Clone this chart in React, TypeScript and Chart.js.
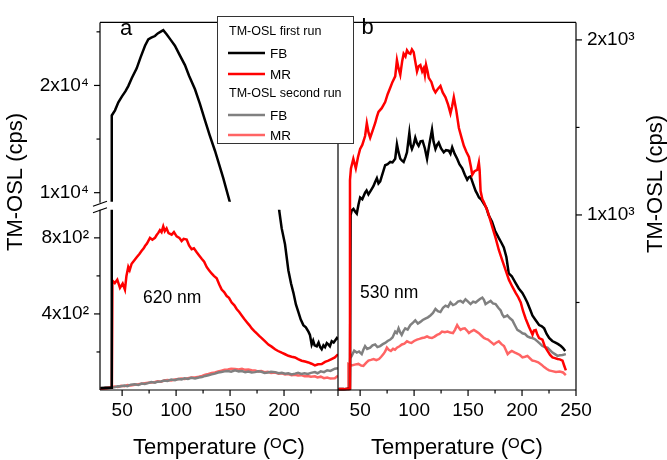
import { useEffect, useRef } from 'react';
import { Chart, registerables } from 'chart.js';

Chart.register(...registerables);

// values: [temperature (°C), TM-OSL (cps)]
// panel a, 620 nm stimulation
const aFirstFb: [number, number][] = [
  [30, 10], [35, 12], [39.8, 12], [40.4, 17200], [43.4, 17680], [46.5, 18430], [50, 19000], [53, 19450],
  [55.7, 19940], [59, 20700], [63.5, 21600], [67, 22600], [71.2, 23700], [74.2, 24300], [77, 24450],
  [80.4, 24610], [83, 24850], [86.6, 25070], [88.1, 25160], [91.2, 24770], [95, 24250], [98.9, 23710],
  [103, 22900], [108.2, 21900], [112, 20900], [117.5, 19640], [122, 18300], [126.7, 16770], [131, 15400],
  [136, 13910], [140, 12600], [143.7, 11350], [149.9, 9080], [160, 5800], [170, 3600], [180, 2200],
  [190, 1300], [195.5, 945], [197.8, 851], [200.9, 766], [204, 630], [206.5, 560], [208.7, 511],
  [211, 450], [213.3, 409], [215.5, 370], [217.9, 341], [220.2, 330], [222.6, 307], [224, 290],
  [225.6, 239], [227, 260], [228.3, 235], [230.3, 230], [232, 250], [233.5, 225], [234.9, 214],
  [236.5, 235], [238, 225], [239.6, 247], [241, 240], [242.5, 230], [244.2, 257], [246, 250],
  [247.5, 262], [248.9, 273], [250, 265],
];
const aFirstMr: [number, number][] = [
  [30, 8], [35, 10], [40.5, 12], [41, 575], [43.2, 562], [45.5, 580], [48, 537], [50.5, 560], [52.6, 528],
  [54, 600], [55.7, 647], [57, 630], [58.8, 664], [61, 680], [63.5, 698], [66, 715], [68.1, 732],
  [70, 745], [71.2, 757], [73, 770], [75.8, 800], [78, 790], [80.4, 800], [82, 815], [83.5, 826],
  [85, 840], [86.5, 830], [88.1, 860], [89.5, 835], [91.2, 850], [93, 825], [95.9, 817], [98, 830],
  [100.5, 808], [103, 800], [105.1, 783], [107, 795], [109.8, 791], [112, 760], [114.4, 740],
  [116.5, 745], [119.1, 724], [121, 710], [123.7, 690], [126, 675], [128.3, 647], [130.5, 630],
  [132.9, 613], [135, 600], [137.6, 588], [140, 555], [142.2, 528], [144.5, 515], [146.9, 494],
  [149, 485], [151.5, 460], [154, 445], [156.1, 426], [158.5, 410], [160.8, 392], [163, 375],
  [165.4, 358], [168, 340], [170.1, 324], [172.5, 310], [174.7, 298], [177, 285], [179.3, 273],
  [182, 258], [185.5, 239], [188.5, 228], [191.7, 214], [194.5, 205], [197.8, 196], [201, 188],
  [204, 180], [207, 175], [210.2, 171], [213, 162], [216.3, 154], [219.5, 150], [222.6, 145],
  [225.5, 138], [228.6, 129], [231.5, 135], [234.9, 137], [238, 148], [241.1, 154], [244, 162],
  [247.1, 171], [250, 188],
];
const aSecondFb: [number, number][] = [
  [30, 8], [35, 10], [40, 12], [43.2, 15], [46, 20], [48, 18], [52, 24], [55, 20], [58, 28], [61.7, 30],
  [65, 26], [68, 34], [71, 32], [74, 36], [77, 42], [80.4, 38], [83, 44], [86, 45], [89, 50], [92, 48],
  [95.5, 55], [98.9, 52], [102, 58], [105, 56], [108, 62], [111, 58], [114, 64], [117.5, 61], [121, 66],
  [124, 68], [127, 74], [130, 78], [133, 82], [136, 86], [139, 92], [142, 95], [145, 98], [148, 100],
  [151, 96], [154.6, 103], [158, 98], [161, 100], [164, 94], [167, 97], [170, 92], [173.1, 94],
  [176, 98], [179, 96], [182, 90], [185, 92], [188, 96], [191.7, 94], [195, 88], [198, 90], [201, 86],
  [204, 88], [207, 82], [210.2, 86], [213, 90], [216, 84], [219, 88], [222, 84], [225, 90],
  [228.6, 94], [231, 88], [234, 98], [237, 94], [240, 104], [243, 100], [247.1, 112], [250, 115],
];
const aSecondMr: [number, number][] = [
  [30, 6], [35, 8], [40, 14], [43.2, 18], [46, 16], [49, 22], [52, 20], [55, 26], [58, 24], [61.7, 28],
  [65, 30], [68, 33], [71, 36], [74, 38], [77, 40], [80.4, 42], [83, 46], [86, 44], [89, 50], [92, 52],
  [95.5, 50], [98.9, 55], [102, 58], [105, 60], [108, 58], [111, 62], [114, 66], [117.5, 66], [121, 70],
  [124, 74], [127, 80], [130, 84], [133, 90], [136, 92], [139, 98], [142, 102], [145, 106], [148, 108],
  [151, 112], [154.6, 110], [158, 108], [161, 112], [164, 106], [167, 108], [170, 104], [173.1, 102],
  [176, 98], [179, 100], [182, 94], [185, 96], [188, 90], [191.7, 92], [195, 86], [198, 88], [201, 82],
  [204, 84], [207, 78], [210.2, 80], [213, 76], [216, 78], [219, 72], [222, 74], [225, 70],
  [228.6, 72], [231, 66], [234, 70], [237, 62], [240, 66], [243, 60], [247.1, 62], [250, 75],
];

// panel b, 530 nm stimulation
const bFirstFb: [number, number][] = [
  [30, 5], [35, 5], [40.6, 8], [41.2, 1000], [42.2, 1026], [43.8, 1035], [45.3, 1020], [46.9, 1008],
  [48.5, 1060], [50, 1100], [52, 1090], [54.6, 1127], [56, 1140], [57.7, 1117], [60, 1140], [62.3, 1164],
  [64, 1190], [65.5, 1210], [67, 1180], [68.6, 1192], [71, 1240], [73.2, 1284], [75.5, 1290],
  [77.9, 1303], [80, 1300], [82.5, 1321], [84.1, 1404], [85.5, 1360], [87.2, 1321], [88.8, 1310],
  [90.3, 1303], [92, 1330], [93.4, 1358], [95.6, 1469], [96.8, 1400], [98, 1377], [99.5, 1400],
  [101.1, 1441], [102.7, 1410], [104.2, 1395], [106, 1420], [107.9, 1423], [110, 1380], [112, 1321],
  [114, 1400], [116.6, 1487], [118, 1420], [119.8, 1377], [121.3, 1400], [122.8, 1413], [125, 1380],
  [127.5, 1358], [129.5, 1370], [132.1, 1367], [133.7, 1350], [135.3, 1386], [137.5, 1350],
  [139.9, 1321], [142, 1290], [144.6, 1266], [147, 1230], [149.2, 1201], [150.7, 1215], [152.3, 1220],
  [154.5, 1180], [157, 1137], [158.5, 1120], [160.1, 1100], [162, 1090], [164.7, 1063], [167, 1040],
  [169, 1000], [172.2, 961], [175, 910], [178.4, 869], [181, 840], [183.1, 814], [185.5, 760],
  [187.7, 666], [190.5, 650], [194.1, 611], [197, 580], [200.3, 555], [202.5, 530], [204.9, 500],
  [207.5, 460], [209.6, 426], [212.5, 400], [215.8, 371], [218, 365], [220.5, 352], [222.8, 320],
  [225.1, 297], [228, 280], [231.4, 269], [233.5, 262], [236, 251], [238, 240], [240, 223],
];
const bFirstMr: [number, number][] = [
  [30, 5], [35, 5], [40.2, 8], [40.6, 1200], [41.5, 1266], [43.7, 1321], [46, 1266], [48, 1330],
  [50, 1377], [52, 1400], [54.6, 1451], [56.2, 1524], [57.8, 1470], [59.3, 1441], [61.5, 1480],
  [63.9, 1524], [65.5, 1560], [67, 1589], [70, 1610], [73.2, 1645], [75.5, 1690], [77.9, 1727],
  [80, 1760], [82.5, 1792], [84.1, 1884], [85.5, 1840], [87.2, 1801], [89, 1880], [90.3, 1921],
  [92, 1905], [93.4, 1940], [95, 1925], [96.5, 1921], [98, 1945], [99.6, 1930], [101, 1880],
  [102.7, 1820], [104.2, 1850], [105.8, 1857], [107.5, 1820], [108.9, 1838], [110, 1800], [111.1, 1857],
  [112.5, 1820], [113.6, 1783], [116, 1760], [118, 1720], [119.8, 1700], [122, 1720], [124.4, 1737],
  [126.5, 1700], [129.1, 1672], [131.5, 1630], [133.7, 1580], [135.2, 1620], [136.8, 1672], [139, 1600],
  [141.5, 1497], [144, 1440], [146.1, 1395], [148.5, 1360], [150.8, 1331], [152.5, 1280], [153.9, 1229],
  [156, 1250], [158.5, 1257], [160, 1300], [160.7, 1257], [161.6, 1137], [163.2, 1091], [164.7, 1072],
  [167.8, 1026], [169.3, 998], [172.5, 930], [175.5, 869], [178.5, 800], [181.7, 740], [185, 680],
  [187.9, 629], [191, 590], [194.1, 555], [196.5, 530], [198.8, 500], [201, 450], [203.4, 407],
  [206.5, 360], [209.7, 316], [211, 340], [212.7, 343], [214, 320], [215.8, 297], [218.9, 288],
  [221, 250], [223.6, 223], [226, 200], [228.2, 186], [230.5, 182], [232.9, 177], [235, 175],
  [237.5, 168], [239, 140], [240.6, 112],
];
const bSecondFb: [number, number][] = [
  [30, 3], [35, 3], [40.4, 5], [40.8, 180], [42.2, 195], [44.5, 225], [46.9, 214], [49, 220], [51.5, 205],
  [53, 230], [54.6, 251], [56.5, 235], [59.3, 242], [61.5, 255], [63.9, 260], [66, 245], [68.5, 251],
  [71, 262], [73.2, 269], [75.5, 280], [77.9, 288], [80, 300], [82.5, 334], [84, 325], [85.6, 352],
  [87, 330], [88.5, 315], [90, 335], [91.8, 352], [94, 345], [96.5, 371], [99, 385], [101.1, 398],
  [103.5, 380], [105.8, 389], [108, 400], [110.4, 408], [112.8, 415], [115.1, 426], [117.5, 440],
  [119.8, 463], [122, 450], [124.4, 445], [126.8, 470], [129.1, 482], [131.5, 475], [133.7, 500],
  [136, 485], [138.3, 491], [140.6, 505], [143, 509], [145.3, 500], [147.6, 518], [150, 505],
  [152.3, 491], [154.7, 505], [157, 500], [159, 510], [161, 520], [163.2, 528], [164.7, 515],
  [166.2, 491], [168.5, 500], [170.9, 509], [173, 495], [175.5, 491], [178, 470], [180.2, 454],
  [181.8, 430], [183.3, 417], [184.9, 420], [186.4, 426], [188.8, 410], [191.1, 398], [193.4, 370],
  [195.7, 343], [198, 335], [200.4, 324], [202.7, 320], [205, 306], [207.3, 300], [209.6, 297],
  [212, 290], [214.3, 278], [216.6, 265], [218.9, 251], [221.2, 245], [223.6, 242], [225.9, 228],
  [228.2, 214], [230.5, 205], [232.9, 195], [235, 198], [237.5, 200], [240.6, 205],
];
const bSecondMr: [number, number][] = [
  [30, 2], [35, 2], [38.8, 3], [39.1, 149], [42.2, 140], [45, 145], [48.4, 149], [51, 140], [53, 138],
  [55.5, 155], [57.7, 168], [60, 172], [62.5, 177], [65, 170], [67.5, 177], [69.5, 190], [71.6, 205],
  [73.2, 220], [74.8, 242], [76.5, 230], [78.5, 223], [80.5, 235], [82.3, 230], [84.1, 242],
  [86.5, 250], [88.7, 260], [91, 265], [93.4, 278], [95.5, 272], [97.5, 269], [100, 280], [102.7, 288],
  [105, 292], [107.4, 297], [109.8, 300], [112, 306], [114, 300], [116.5, 297], [119, 305],
  [121.3, 315], [123.5, 320], [125.9, 334], [128.5, 330], [131, 334], [133.5, 328], [136, 325],
  [138, 345], [139.9, 371], [141.5, 355], [143, 343], [145, 350], [147, 352], [149, 340], [150.8, 325],
  [153, 335], [155.4, 343], [157.5, 335], [160, 325], [162.5, 310], [164.7, 297], [166.5, 292],
  [168.5, 288], [171, 275], [173.9, 260], [176, 270], [178.5, 278], [181, 262], [183.3, 251],
  [185, 228], [186.7, 205], [188.5, 215], [190.5, 223], [193, 215], [195.5, 208], [198, 200],
  [200.4, 186], [202.8, 190], [205, 195], [207.5, 180], [209.6, 168], [212, 165], [215, 158],
  [218, 145], [220.5, 131], [223, 120], [225.1, 112], [228, 108], [231.4, 103], [235, 105],
  [238, 100], [240.6, 85],
];

// ticks
const xLabelsA = [50, 100, 150, 200];
const xLabelsB = [50, 100, 150, 200, 250];
const xMajor = [50, 100, 150, 200, 250];
const xMinor = [75, 125, 175, 225];
const aHighMajor = [10000, 20000];
const aHighMinor = [15000, 25000];
const aLowMajor = [400, 800];
const aLowMinor = [200, 600];
const bMajor = [1000, 2000];
const bMinor = [500, 1500];

const BLACK = '#000000';
const RED = '#ff0000';
const GREY = '#808080';
const PINK = '#ff6464';
const FONT = '"Liberation Sans", Arial, sans-serif';
const SUP: Record<number, string> = { 2: '\u00b2', 3: '\u00b3', 4: '\u2074' };

const sciLabel = (v: number) => {
  const e = Math.floor(Math.log10(v) + 1e-9);
  return `${Math.round(v / Math.pow(10, e))}x10${SUP[e]}`;
};

const pts = (d: [number, number][]) => d.map(([x, y]) => ({ x, y }));

const decorations = {
  id: 'decorations',
  afterDraw(chart: any) {
    const { ctx, chartArea } = chart;
    const { xa, xb, yLow, yHigh, yb } = chart.scales;
    const { top, bottom } = chartArea;
    const seg = (x1: number, y1: number, x2: number, y2: number) => {
      ctx.beginPath();
      ctx.moveTo(x1, y1);
      ctx.lineTo(x2, y2);
      ctx.stroke();
    };
    ctx.save();
    ctx.strokeStyle = '#000';
    ctx.lineWidth = 1.2;

    // frames of both panels
    seg(xa.left, top, xb.right, top);
    seg(xa.left, bottom, xb.right, bottom);
    seg(xa.right, top, xa.right, bottom);
    seg(xb.right, top, xb.right, bottom);

    // broken left axis
    const brk = yHigh.bottom;
    seg(xa.left, top, xa.left, brk - 3);
    seg(xa.left, brk + 4, xa.left, bottom);
    seg(xa.left - 7, brk + 0.5, xa.left + 7, brk - 4.5);
    seg(xa.left - 7, brk + 7, xa.left + 7, brk + 2);

    // tick marks, all pointing out
    for (const s of [xa, xb]) {
      xMajor.forEach((v) => { const x = s.getPixelForValue(v); seg(x, bottom, x, bottom + 6); });
      xMinor.forEach((v) => { const x = s.getPixelForValue(v); seg(x, bottom, x, bottom + 3.5); });
    }
    const left = (s: any, major: number[], minor: number[]) => {
      major.forEach((v) => { const y = s.getPixelForValue(v); seg(xa.left - 6, y, xa.left, y); });
      minor.forEach((v) => { const y = s.getPixelForValue(v); seg(xa.left - 3.5, y, xa.left, y); });
    };
    left(yHigh, aHighMajor, aHighMinor);
    left(yLow, aLowMajor, aLowMinor);
    bMajor.forEach((v) => { const y = yb.getPixelForValue(v); seg(xb.right, y, xb.right + 6, y); });
    bMinor.forEach((v) => { const y = yb.getPixelForValue(v); seg(xb.right, y, xb.right + 3.5, y); });

    // panel letters and wavelengths
    ctx.fillStyle = '#000';
    ctx.font = `22px ${FONT}`;
    ctx.textAlign = 'center';
    ctx.textBaseline = 'middle';
    ctx.fillText('a', xa.left + 26, 29);
    ctx.fillText('b', xb.left + 29.5, 28);
    ctx.font = `17.5px ${FONT}`;
    ctx.textAlign = 'left';
    ctx.textBaseline = 'alphabetic';
    ctx.fillText('620 nm', xa.left + 43, 303);
    ctx.fillText('530 nm', xb.left + 22, 298);

    // axis titles
    const temp = (cx: number, base: number) => {
      ctx.font = `22px ${FONT}`;
      const a = 'Temperature (';
      const c = 'C)';
      const wa = ctx.measureText(a).width;
      const wc = ctx.measureText(c).width;
      ctx.font = `15px ${FONT}`;
      const wo = ctx.measureText('O').width;
      let x = cx - (wa + wo + wc) / 2;
      ctx.font = `22px ${FONT}`;
      ctx.fillText(a, x, base);
      x += wa;
      ctx.font = `15px ${FONT}`;
      ctx.fillText('O', x, base - 6);
      x += wo;
      ctx.font = `22px ${FONT}`;
      ctx.fillText(c, x, base);
    };
    temp((xa.left + xa.right) / 2, 454);
    temp((xb.left + xb.right) / 2, 454);

    const vTitle = (x: number, y: number) => {
      ctx.save();
      ctx.translate(x, y);
      ctx.rotate(-Math.PI / 2);
      ctx.font = `22px ${FONT}`;
      ctx.textAlign = 'center';
      ctx.textBaseline = 'middle';
      ctx.fillText('TM-OSL (cps)', 0, 0);
      ctx.restore();
    };
    vTitle(16, 182);
    vTitle(656, 184);

    // legend
    const lx = 217.5, ly = 16.5;
    ctx.fillStyle = '#fff';
    ctx.fillRect(lx, ly, 136, 127);
    ctx.strokeStyle = '#333';
    ctx.lineWidth = 1;
    ctx.strokeRect(lx, ly, 136, 127);
    ctx.fillStyle = '#000';
    ctx.textAlign = 'left';
    ctx.textBaseline = 'middle';
    ctx.font = `12.5px ${FONT}`;
    ctx.fillText('TM-OSL first run', 229, 32);
    ctx.fillText('TM-OSL second run', 229, 94);
    const entries: [string, string, number][] = [
      ['FB', BLACK, 53], ['MR', RED, 74], ['FB', GREY, 115], ['MR', PINK, 135],
    ];
    ctx.font = `13.5px ${FONT}`;
    entries.forEach(([label, color, y]) => {
      ctx.strokeStyle = color;
      ctx.lineWidth = 2.5;
      seg(228, y, 265, y);
      ctx.fillText(label, 270, y + 1);
    });
    ctx.restore();
  },
};

const App = () => {
  const canvasRef = useRef<HTMLCanvasElement | null>(null);
  const chartRef = useRef<Chart | null>(null);

  useEffect(() => {
    if (!canvasRef.current) return;
    if (chartRef.current) chartRef.current.destroy();

    const low = { left: 0, right: 0, top: -4, bottom: 1.5 };
    const high = { left: 0, right: 0, top: 0, bottom: -4 };
    const full = { left: 0, right: 0, top: 0, bottom: 1.5 };
    const line = (data: [number, number][], color: string, xAxisID: string, yAxisID: string, clip: any) => ({
      data: pts(data),
      borderColor: color,
      backgroundColor: color,
      borderWidth: 2.5,
      pointRadius: 0,
      tension: 0,
      xAxisID,
      yAxisID,
      clip,
    });

    const xScale = (labels: number[]) => ({
      type: 'linear',
      position: 'bottom',
      stack: 'temperature',
      stackWeight: 1,
      min: 29.5,
      max: 250,
      grid: { display: false, drawTicks: false },
      border: { display: false },
      afterBuildTicks: (s: any) => { s.ticks = labels.map((value) => ({ value })); },
      afterFit: (s: any) => { s.height = 70; },
      ticks: { autoSkip: false, maxRotation: 0, padding: 9, color: '#000', font: { family: FONT, size: 19 } },
    });
    const yScale = (position: string, min: number, max: number, labels: number[], width: number, extra: any) => ({
      type: 'linear',
      position,
      min,
      max,
      grid: { display: false, drawTicks: false },
      border: { display: false },
      afterBuildTicks: (s: any) => { s.ticks = labels.map((value) => ({ value })); },
      afterFit: (s: any) => { s.width = width; },
      ticks: {
        autoSkip: false,
        padding: 11,
        color: '#000',
        font: { family: FONT, size: 19 },
        callback: (v: any) => sciLabel(Number(v)),
      },
      ...extra,
    });

    chartRef.current = new Chart(canvasRef.current, {
      type: 'line',
      data: {
        datasets: [
          line(aFirstFb, BLACK, 'xa', 'yHigh', high),
          line(aFirstFb, BLACK, 'xa', 'yLow', low),
          line(aFirstMr, RED, 'xa', 'yLow', low),
          line(aSecondFb, GREY, 'xa', 'yLow', low),
          line(aSecondMr, PINK, 'xa', 'yLow', low),
          line(bFirstMr, RED, 'xb', 'yb', full),
          line(bFirstFb, BLACK, 'xb', 'yb', full),
          line(bSecondFb, GREY, 'xb', 'yb', full),
          line(bSecondMr, PINK, 'xb', 'yb', full),
        ] as any,
      },
      options: {
        responsive: false,
        animation: false,
        events: [],
        layout: { padding: { top: 11, left: 0, right: 0, bottom: 0 } },
        plugins: { legend: { display: false }, tooltip: { enabled: false } },
        scales: {
          xa: xScale(xLabelsA),
          xb: xScale(xLabelsB),
          yLow: yScale('left', 0, 969, aLowMajor, 100, { stack: 'broken', stackWeight: 190, weight: 0 }),
          yHigh: yScale('left', 8784, 25880, aHighMajor, 100, { stack: 'broken', stackWeight: 189, weight: 1 }),
          yb: yScale('right', 0, 2100, bMajor, 91, {}),
        } as any,
      },
      plugins: [decorations],
    });

    return () => {
      if (chartRef.current) {
        chartRef.current.destroy();
        chartRef.current = null;
      }
    };
  }, []);

  return (
    <div style={{ position: 'absolute', left: 0, top: 0, width: 667, height: 460, background: '#fff' }}>
      <canvas ref={canvasRef} width={667} height={460} />
    </div>
  );
};

export default App;
